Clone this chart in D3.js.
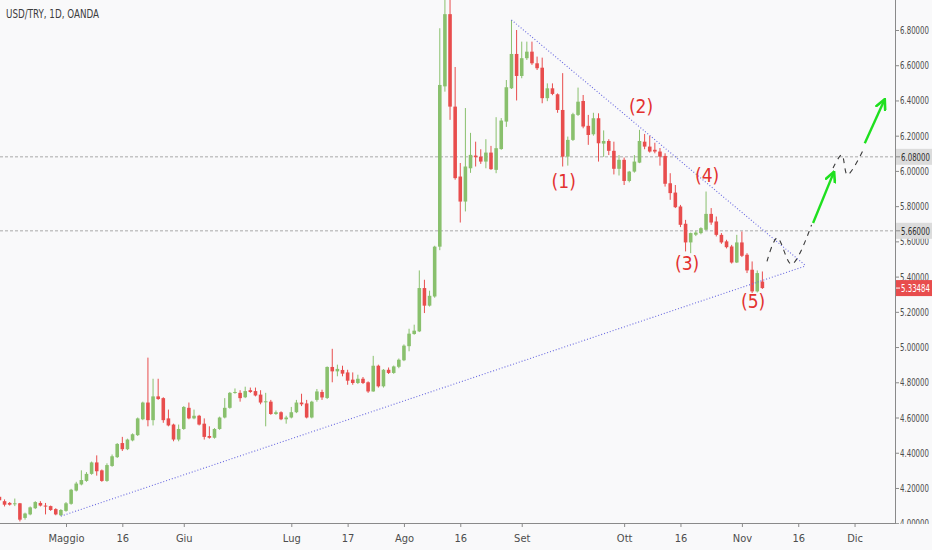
<!DOCTYPE html>
<html>
<head>
<meta charset="utf-8">
<script src="https://cdn.jsdelivr.net/npm/d3@7"></script>
<style>
  html, body { margin: 0; padding: 0; background: #f9f9fa; }
  svg { display: block; }
  text { font-family: "Liberation Sans Narrow", "DejaVu Sans Condensed", "Roboto Condensed", "Liberation Sans", sans-serif; }
  .axis text { font-size: 11px; fill: #4d4d4d; }
  .axis line { stroke: #8a8a8a; }
</style>
</head>
<body>
<svg id="chart"></svg>
<script>
// data (daily candles on a trading-day grid)
const firstIndex = -1;
// [open, high, low, close]
const ohlc = [
  [4.15, 4.16, 4.12, 4.13],
  [4.125, 4.135, 4.095, 4.105],
  [4.115, 4.12, 4.10, 4.105],
  [4.108, 4.14, 4.097, 4.113],
  [4.113, 4.115, 4.01, 4.02],
  [4.03, 4.06, 4.02, 4.055],
  [4.05, 4.095, 4.045, 4.09],
  [4.085, 4.125, 4.08, 4.12],
  [4.115, 4.125, 4.095, 4.10],
  [4.10, 4.115, 4.05, 4.095],
  [4.097, 4.10, 4.07, 4.075],
  [4.08, 4.085, 4.045, 4.05],
  [4.045, 4.08, 4.04, 4.075],
  [4.07, 4.12, 4.065, 4.113],
  [4.11, 4.195, 4.105, 4.19],
  [4.185, 4.235, 4.18, 4.225],
  [4.22, 4.30, 4.215, 4.245],
  [4.24, 4.29, 4.235, 4.28],
  [4.28, 4.35, 4.275, 4.345],
  [4.345, 4.385, 4.27, 4.295],
  [4.30, 4.305, 4.235, 4.24],
  [4.24, 4.34, 4.235, 4.33],
  [4.325, 4.39, 4.32, 4.38],
  [4.375, 4.455, 4.37, 4.45],
  [4.455, 4.49, 4.41, 4.42],
  [4.42, 4.48, 4.415, 4.475],
  [4.47, 4.51, 4.465, 4.505],
  [4.50, 4.60, 4.495, 4.595],
  [4.59, 4.69, 4.585, 4.685],
  [4.685, 4.94, 4.55, 4.585],
  [4.585, 4.82, 4.555, 4.72],
  [4.72, 4.82, 4.70, 4.705],
  [4.71, 4.715, 4.57, 4.585],
  [4.595, 4.645, 4.55, 4.555],
  [4.56, 4.565, 4.465, 4.475],
  [4.475, 4.56, 4.465, 4.535],
  [4.535, 4.665, 4.53, 4.66],
  [4.655, 4.685, 4.59, 4.595],
  [4.595, 4.645, 4.59, 4.61],
  [4.61, 4.615, 4.555, 4.56],
  [4.565, 4.595, 4.475, 4.49],
  [4.495, 4.55, 4.48, 4.485],
  [4.485, 4.54, 4.48, 4.535],
  [4.535, 4.605, 4.53, 4.60],
  [4.60, 4.71, 4.595, 4.655],
  [4.655, 4.745, 4.65, 4.74],
  [4.74, 4.765, 4.735, 4.745],
  [4.74, 4.755, 4.69, 4.71],
  [4.715, 4.775, 4.71, 4.75],
  [4.755, 4.77, 4.74, 4.745],
  [4.75, 4.77, 4.72, 4.725],
  [4.73, 4.755, 4.675, 4.685],
  [4.69, 4.74, 4.55, 4.692],
  [4.69, 4.70, 4.615, 4.62],
  [4.62, 4.64, 4.615, 4.63],
  [4.63, 4.635, 4.585, 4.59],
  [4.59, 4.61, 4.565, 4.60],
  [4.60, 4.66, 4.595, 4.63],
  [4.63, 4.70, 4.625, 4.685],
  [4.685, 4.735, 4.665, 4.675],
  [4.68, 4.70, 4.595, 4.60],
  [4.60, 4.695, 4.595, 4.69],
  [4.70, 4.762, 4.69, 4.748],
  [4.745, 4.758, 4.70, 4.714],
  [4.711, 4.89, 4.705, 4.887],
  [4.887, 4.99, 4.80, 4.862],
  [4.862, 4.90, 4.834, 4.876],
  [4.87, 4.894, 4.834, 4.849],
  [4.856, 4.871, 4.786, 4.809],
  [4.815, 4.856, 4.786, 4.796],
  [4.796, 4.843, 4.79, 4.82],
  [4.82, 4.83, 4.79, 4.796],
  [4.80, 4.805, 4.74, 4.748],
  [4.748, 4.95, 4.746, 4.894],
  [4.894, 4.90, 4.77, 4.777],
  [4.777, 4.875, 4.77, 4.871],
  [4.871, 4.884, 4.847, 4.853],
  [4.853, 4.895, 4.848, 4.89],
  [4.888, 4.935, 4.88, 4.928],
  [4.925, 5.015, 4.92, 5.008],
  [5.005, 5.104, 4.976, 5.076],
  [5.074, 5.127, 5.07, 5.093],
  [5.089, 5.435, 5.085, 5.335],
  [5.335, 5.382, 5.193, 5.235],
  [5.235, 5.32, 5.23, 5.291],
  [5.287, 5.575, 5.28, 5.57],
  [5.57, 6.81, 5.55, 6.488],
  [6.48, 7.1, 6.45, 6.89],
  [6.89, 7.0, 6.29, 6.365],
  [6.365, 6.59, 5.95, 5.959],
  [5.968, 6.045, 5.707, 5.826],
  [5.826, 6.357, 5.77, 6.025],
  [6.015, 6.216, 5.989, 6.091],
  [6.087, 6.166, 6.025, 6.078],
  [6.081, 6.123, 6.04, 6.053],
  [6.053, 6.18, 6.015, 6.104],
  [6.104, 6.142, 6.006, 6.01],
  [6.006, 6.305, 5.987, 6.129],
  [6.124, 6.30, 6.12, 6.286],
  [6.28, 6.516, 6.25, 6.475],
  [6.469, 6.857, 6.465, 6.664],
  [6.664, 6.80, 6.40, 6.539],
  [6.539, 6.734, 6.526, 6.64],
  [6.64, 6.734, 6.63, 6.677],
  [6.677, 6.734, 6.602, 6.611],
  [6.611, 6.649, 6.573, 6.583],
  [6.586, 6.643, 6.384, 6.413],
  [6.413, 6.497, 6.396, 6.469],
  [6.469, 6.497, 6.43, 6.437],
  [6.435, 6.44, 6.33, 6.346],
  [6.346, 6.555, 6.025, 6.081],
  [6.081, 6.195, 6.03, 6.176],
  [6.176, 6.33, 6.17, 6.322],
  [6.318, 6.473, 6.312, 6.393],
  [6.397, 6.431, 6.242, 6.252],
  [6.256, 6.318, 6.148, 6.204],
  [6.208, 6.33, 6.20, 6.299],
  [6.299, 6.327, 6.053, 6.157],
  [6.155, 6.23, 6.08, 6.17],
  [6.17, 6.18, 6.09, 6.114],
  [6.114, 6.166, 5.98, 6.012],
  [6.012, 6.09, 5.974, 6.063],
  [6.063, 6.076, 5.92, 5.943],
  [5.943, 6.0, 5.935, 5.996],
  [5.996, 6.09, 5.99, 6.053],
  [6.047, 6.233, 6.044, 6.17],
  [6.166, 6.21, 6.123, 6.138],
  [6.138, 6.199, 6.104, 6.11],
  [6.12, 6.16, 6.10, 6.11],
  [6.11, 6.13, 6.03, 6.081],
  [6.085, 6.10, 5.911, 5.927],
  [5.93, 5.987, 5.836, 5.874],
  [5.877, 5.92, 5.789, 5.794],
  [5.798, 5.807, 5.681, 5.694],
  [5.70, 5.722, 5.543, 5.594],
  [5.594, 5.65, 5.533, 5.647],
  [5.638, 5.66, 5.63, 5.65],
  [5.647, 5.68, 5.64, 5.675],
  [5.666, 5.883, 5.662, 5.756],
  [5.756, 5.789, 5.694, 5.707],
  [5.713, 5.741, 5.628, 5.637],
  [5.637, 5.647, 5.586, 5.594],
  [5.60, 5.609, 5.56, 5.567],
  [5.571, 5.58, 5.474, 5.48],
  [5.48, 5.637, 5.477, 5.594],
  [5.594, 5.656, 5.511, 5.518],
  [5.524, 5.533, 5.42, 5.435],
  [5.439, 5.486, 5.307, 5.316],
  [5.316, 5.435, 5.31, 5.42],
  [5.372, 5.429, 5.33, 5.33484],
];

const title = "USD/TRY, 1D, OANDA";
const xTickIndex = [12, 23, 35, 56, 67, 78, 89, 101, 121, 132, 144, 155, 166];
const xTickLabels = ["Maggio", "16", "Giu", "Lug", "17", "Ago", "16", "Set", "Ott", "16", "Nov", "16", "Dic"];
const yTicks = [4.0, 4.2, 4.4, 4.6, 4.8, 5.0, 5.2, 5.4, 5.6, 5.8, 6.0, 6.2, 6.4, 6.6, 6.8];
const levels = [6.08, 5.66];
const lastPrice = 5.33484;

// drawings: [index, price]
const upperTrend = [[99, 6.857], [156.5, 5.461]];
const lowerTrend = [[11, 4.04], [156.5, 5.461]];
const waveLabels = ["(1)", "(2)", "(3)", "(4)", "(5)"];
const wavePos = [[109.2, 5.945], [124.3, 6.369], [133.3, 5.48], [137.2, 5.978], [146.2, 5.259]];
const projectionA = [[148.9, 5.486], [150.9, 5.62], [153.7, 5.47], [157.6, 5.694]];
const projectionB = [[161.8, 6.016], [163.5, 6.091], [164.6, 5.978], [167.7, 6.119]];
const arrowA = [[157.9, 5.704], [162.0, 5.996]];
const arrowB = [[168.0, 6.157], [171.9, 6.407]];

// settings
const width = 932;
const height = 550;
const plotRight = 895;
const plotBottom = 523;
const priceTextWidth = 29;
const upColor = "#89c06d";
const downColor = "#e84d4d";

const svg = d3
  .select("#chart")
  .attr("width", width)
  .attr("height", height)
  .style("background", "#f9f9fa");

// squeeze a text to a fixed width (narrow price-scale look)
function fitText(sel, w) {
  sel.each(function () {
    const t = d3.select(this);
    const x0 = +t.attr("x") || 0;
    const s = Math.min(1, w / this.getComputedTextLength());
    t.attr("x", 0).attr("transform", `translate(${x0}, 0) scale(${s}, 1)`);
  });
}

// scales
const xScale = d3.scaleLinear().domain([-0.89, 173.9]).range([0, plotRight]);
const yScale = d3.scaleLinear().domain([4.0, 6.8]).range([523.2, 30]);
const step = xScale(1) - xScale(0);
const bodyWidth = step * 0.7;

const defs = svg.append("defs");
defs
  .append("clipPath")
  .attr("id", "plot-clip")
  .append("rect")
  .attr("width", plotRight)
  .attr("height", plotBottom);
defs
  .append("clipPath")
  .attr("id", "axis-clip")
  .append("rect")
  .attr("x", plotRight)
  .attr("width", width - plotRight)
  .attr("height", plotBottom + 1);
defs
  .append("marker")
  .attr("id", "arrow-head")
  .attr("markerUnits", "userSpaceOnUse")
  .attr("viewBox", "0 0 10 10")
  .attr("refX", 9)
  .attr("refY", 5)
  .attr("markerWidth", 12)
  .attr("markerHeight", 12)
  .attr("orient", "auto")
  .append("path")
  .attr("d", "M1,1 L9,5 L1,9")
  .attr("fill", "none")
  .attr("stroke", "#1fe01f")
  .attr("stroke-width", 2.2)
  .attr("stroke-linecap", "round");

const plot = svg.append("g").attr("clip-path", "url(#plot-clip)");

// horizontal levels
plot
  .selectAll(".level")
  .data(levels)
  .join("line")
  .attr("class", "level")
  .attr("x1", 0)
  .attr("x2", plotRight)
  .attr("y1", (d) => yScale(d))
  .attr("y2", (d) => yScale(d))
  .attr("stroke", "#c4c4c4")
  .attr("stroke-width", 1.6)
  .attr("stroke-dasharray", "3,2");

// candles
const candles = ohlc.map((d, k) => ({ i: firstIndex + k, o: d[0], h: d[1], l: d[2], c: d[3] }));

plot
  .selectAll(".wick")
  .data(candles)
  .join("line")
  .attr("class", "wick")
  .attr("x1", (d) => xScale(d.i))
  .attr("x2", (d) => xScale(d.i))
  .attr("y1", (d) => yScale(d.h))
  .attr("y2", (d) => yScale(d.l))
  .attr("stroke", (d) => (d.c >= d.o ? upColor : downColor))
  .attr("stroke-width", 1);

plot
  .selectAll(".body")
  .data(candles)
  .join("rect")
  .attr("class", "body")
  .attr("x", (d) => xScale(d.i) - bodyWidth / 2)
  .attr("width", bodyWidth)
  .attr("y", (d) => yScale(Math.max(d.o, d.c)))
  .attr("height", (d) => Math.max(1, Math.abs(yScale(d.o) - yScale(d.c))))
  .attr("fill", (d) => (d.c >= d.o ? upColor : downColor));

// trend lines
const lineGen = d3
  .line()
  .x((d) => xScale(d[0]))
  .y((d) => yScale(d[1]));

plot
  .selectAll(".trend")
  .data([upperTrend, lowerTrend])
  .join("path")
  .attr("class", "trend")
  .attr("d", lineGen)
  .attr("fill", "none")
  .attr("stroke", "#6868e0")
  .attr("stroke-width", 1.1)
  .attr("stroke-dasharray", "1,2");

// projected path
const curveGen = d3
  .line()
  .curve(d3.curveCatmullRom.alpha(0.5))
  .x((d) => xScale(d[0]))
  .y((d) => yScale(d[1]));

plot
  .selectAll(".projection")
  .data([projectionA, projectionB])
  .join("path")
  .attr("class", "projection")
  .attr("d", curveGen)
  .attr("fill", "none")
  .attr("stroke", "#3a3a3a")
  .attr("stroke-width", 1.1)
  .attr("stroke-dasharray", "5,5");

plot
  .selectAll(".arrow")
  .data([arrowA, arrowB])
  .join("path")
  .attr("class", "arrow")
  .attr("d", lineGen)
  .attr("fill", "none")
  .attr("stroke", "#1fe01f")
  .attr("stroke-width", 2.4)
  .attr("marker-end", "url(#arrow-head)");

// wave labels
plot
  .selectAll(".wave")
  .data(waveLabels)
  .join("text")
  .attr("class", "wave")
  .attr("x", (d, k) => xScale(wavePos[k][0]))
  .attr("y", (d, k) => yScale(wavePos[k][1]))
  .attr("text-anchor", "middle")
  .attr("dominant-baseline", "central")
  .attr("fill", "#e3312f")
  .style("font-size", "19px")
  .text((d) => d);

// title
svg
  .append("text")
  .attr("x", 6)
  .attr("y", 18)
  .attr("fill", "#3d3d3d")
  .attr("textLength", 93)
  .attr("lengthAdjust", "spacingAndGlyphs")
  .style("font-size", "13px")
  .text(title);

// axes
const xAxis = d3
  .axisBottom(xScale)
  .tickValues(xTickIndex)
  .tickFormat((d, k) => xTickLabels[k])
  .tickSize(4)
  .tickPadding(7);

const yAxis = d3
  .axisRight(yScale)
  .tickValues(yTicks)
  .tickFormat((d) => d.toFixed(5))
  .tickSize(4)
  .tickPadding(1);

const xAxisG = svg
  .append("g")
  .attr("class", "axis xAxis")
  .attr("transform", `translate(0, ${plotBottom})`)
  .call(xAxis);
xAxisG.select(".domain").remove();

const yAxisG = svg
  .append("g")
  .attr("clip-path", "url(#axis-clip)")
  .append("g")
  .attr("class", "axis yAxis")
  .attr("transform", `translate(${plotRight}, 0)`)
  .call(yAxis);
yAxisG.select(".domain").remove();
fitText(yAxisG.selectAll("text"), priceTextWidth);

svg
  .append("line")
  .attr("x1", 0)
  .attr("x2", plotRight)
  .attr("y1", plotBottom + 0.5)
  .attr("y2", plotBottom + 0.5)
  .attr("stroke", "#8a8a8a");
svg
  .append("line")
  .attr("x1", plotRight + 0.5)
  .attr("x2", plotRight + 0.5)
  .attr("y1", 0)
  .attr("y2", plotBottom + 1)
  .attr("stroke", "#8a8a8a");

// price labels on the right scale
const priceTags = levels
  .map((v) => ({ v, bg: "#dcdcdc", fg: "#2f2f2f" }))
  .concat([{ v: lastPrice, bg: downColor, fg: "#ffffff" }]);

const tag = svg
  .selectAll(".tag")
  .data(priceTags)
  .join("g")
  .attr("class", "tag")
  .attr("transform", (d) => `translate(${plotRight + 1}, ${yScale(d.v)})`);

tag
  .append("rect")
  .attr("y", -8)
  .attr("width", width - plotRight - 1)
  .attr("height", 16)
  .attr("fill", (d) => d.bg);

tag
  .append("line")
  .attr("x2", 4)
  .attr("stroke", (d) => (d.fg === "#ffffff" ? "#ffffff" : "#8a8a8a"));

tag
  .append("text")
  .attr("x", 5)
  .attr("dy", "0.35em")
  .attr("fill", (d) => d.fg)
  .style("font-size", "11px")
  .text((d) => d.v.toFixed(5));
fitText(tag.selectAll("text"), priceTextWidth);
</script>
</body>
</html>
